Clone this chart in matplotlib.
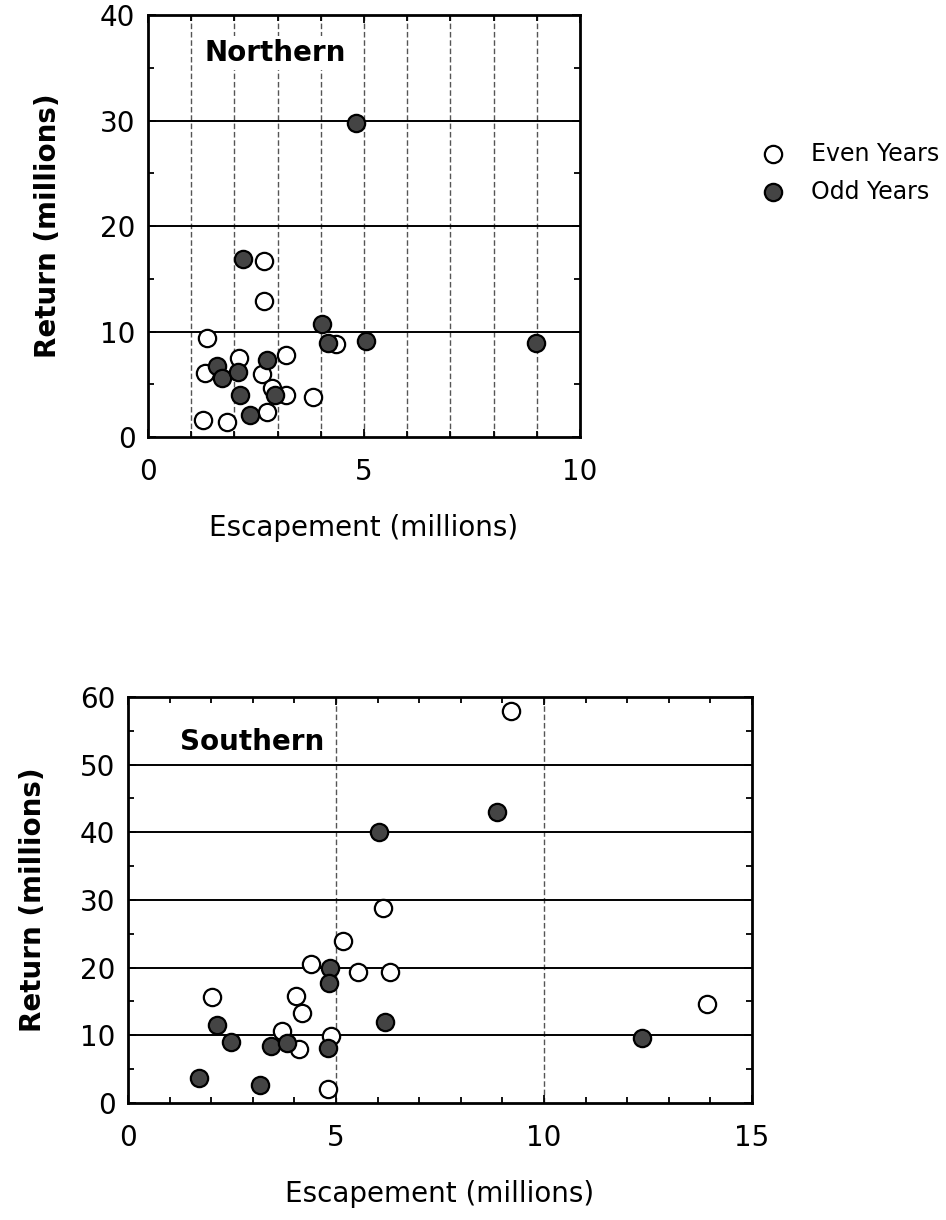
import matplotlib.pyplot as plt
from matplotlib.ticker import MultipleLocator

plt.rcParams["font.family"] = ["DejaVu Sans"]

# Northern
north_even_x = [2.68, 2.68, 1.36, 4.36, 3.19, 2.10, 1.32, 2.65, 2.88, 3.19, 3.83, 2.76, 1.28, 1.83]
north_even_y = [16.7, 12.9, 9.4, 8.8, 7.8, 7.5, 6.1, 6.0, 4.6, 4.0, 3.8, 2.4, 1.6, 1.4]
north_odd_x = [4.81, 2.19, 4.03, 4.16, 5.04, 8.99, 2.76, 1.60, 1.71, 2.09, 2.14, 2.94, 2.37]
north_odd_y = [29.8, 16.9, 10.7, 8.9, 9.1, 8.9, 7.3, 6.7, 5.6, 6.2, 4.0, 4.0, 2.1]

# Southern
south_even_x = [9.2, 6.13, 5.18, 4.41, 5.53, 6.30, 2.03, 4.03, 4.18, 3.70, 4.88, 4.11, 4.80, 13.93]
south_even_y = [58.0, 28.8, 24.0, 20.5, 19.4, 19.3, 15.7, 15.8, 13.3, 10.7, 9.9, 8.0, 2.1, 14.6]
south_odd_x = [8.88, 6.03, 4.86, 4.83, 6.18, 2.13, 2.48, 3.43, 3.83, 4.80, 1.70, 3.18, 12.35]
south_odd_y = [43.0, 40.0, 19.9, 17.8, 11.9, 11.5, 9.0, 8.4, 8.9, 8.2, 3.7, 2.7, 9.6]

fig = plt.figure(figsize=(9.46, 12.2), dpi=100)
ax1 = fig.add_axes([0.1564, 0.6418, 0.4567, 0.3459])
ax2 = fig.add_axes([0.1353, 0.0959, 0.6596, 0.3328])


def style(ax, xmax, ymax, xgrid, ygrid, ylabelpad):
    ax.set_xlim(0, xmax)
    ax.set_ylim(0, ymax)
    for x in xgrid:
        ax.axvline(x, color="#555555", lw=1, ls=(0, (4, 2)), zorder=1)
    for y in ygrid:
        ax.axhline(y, color="black", lw=1.4, zorder=1)
    ax.xaxis.set_major_locator(MultipleLocator(5))
    ax.yaxis.set_major_locator(MultipleLocator(10))
    ax.xaxis.set_minor_locator(MultipleLocator(1))
    ax.yaxis.set_minor_locator(MultipleLocator(5))
    ax.tick_params(which="both", direction="in", top=True, right=True, width=1.3)
    ax.tick_params(which="major", length=6, labelsize=20)
    ax.tick_params(which="minor", length=4)
    ax.tick_params(axis="x", which="major", pad=15)
    ax.tick_params(axis="y", which="major", pad=9)
    for s in ax.spines.values():
        s.set_linewidth(2)
    ax.set_xlabel("Escapement (millions)", fontsize=20, labelpad=20)
    ax.set_ylabel("Return (millions)", fontsize=20, fontweight="bold", labelpad=ylabelpad)


style(ax1, 10, 40, range(1, 10), [10, 20, 30], 27)
style(ax2, 15, 60, [5, 10], [10, 20, 30, 40, 50], 24)

ms = 155
ax1.scatter(north_even_x, north_even_y, s=ms, facecolor="white", edgecolor="black", lw=1.6, zorder=3, label="Even Years")
ax1.scatter(north_odd_x, north_odd_y, s=ms, facecolor="#444444", edgecolor="black", lw=1.6, zorder=4, label="Odd Years")
ax2.scatter(south_even_x, south_even_y, s=ms, facecolor="white", edgecolor="black", lw=1.6, zorder=3)
ax2.scatter(south_odd_x, south_odd_y, s=ms, facecolor="#444444", edgecolor="black", lw=1.6, zorder=4)

ax1.text(0.13, 0.91, "Northern", transform=ax1.transAxes, fontsize=20, fontweight="bold",
         va="center", ha="left", zorder=5, bbox=dict(facecolor="white", edgecolor="none", pad=2))
ax2.text(0.083, 0.89, "Southern", transform=ax2.transAxes, fontsize=20, fontweight="bold",
         va="center", ha="left", zorder=5)

handles, labels = ax1.get_legend_handles_labels()
fig.legend(handles, labels, loc="upper left", bbox_to_anchor=(0.805, 0.884), frameon=False,
           fontsize=17, markerscale=1.0, handlelength=1.0, handletextpad=1.1,
           labelspacing=0.6, borderpad=0, borderaxespad=0)

fig.savefig("out.png", dpi=100)
